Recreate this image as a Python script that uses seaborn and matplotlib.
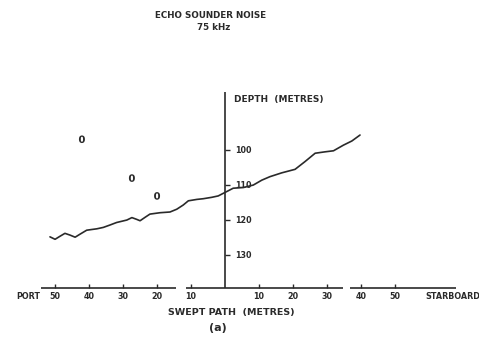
import matplotlib
matplotlib.use("Agg")
import matplotlib.pyplot as plt
import numpy as np
import pandas as pd
import seaborn as sns

# seabed profile across the swept path
path_m = [-51.5, -50.0, -48.5, -47.1, -45.6, -44.1, -42.6, -40.7, -37.7, -35.8,
          -33.8, -31.9, -28.9, -27.4, -26.0, -25.0, -23.5, -22.1, -19.1, -16.2,
          -14.2, -12.3, -10.8, -8.3, -6.4, -3.9, -2.0, 0.0, 2.4, 5.4,
          8.3, 10.8, 13.2, 16.7, 20.6, 23.5, 26.5, 29.4, 31.9, 34.8,
          37.3, 39.7]
depth_m = [124.8, 125.5, 124.6, 123.8, 124.3, 124.9, 124.0, 122.9, 122.5, 122.1,
           121.4, 120.7, 120.0, 119.3, 119.8, 120.2, 119.2, 118.3, 117.9, 117.7,
           116.9, 115.7, 114.5, 114.1, 113.9, 113.5, 113.1, 112.1, 110.9, 110.7,
           110.0, 108.6, 107.6, 106.5, 105.5, 103.3, 100.9, 100.5, 100.2, 98.6,
           97.4, 95.7]

# noise returns
noise_x = [-42.1, -27.4, -20.0]
noise_depth = [96.9, 108.0, 113.1]

port_ticks = [50, 40, 30, 20, 10]
stbd_ticks = [10, 20, 30, 40, 50]
depth_ticks = [100, 110, 120, 130]

ink = "#2a2a2a"
font = dict(family="DejaVu Sans", weight="bold", color=ink)

sns.set_style("white")
fig = plt.figure(figsize=(4.79, 3.46), dpi=100)
ax = fig.add_axes([0, 0, 1, 1])
ax.set_xlim(-66.2, 74.7)
ax.set_ylim(156.0, 57.1)
ax.axis("off")

profile = pd.DataFrame({"x": path_m, "depth": depth_m})
sns.lineplot(data=profile, x="x", y="depth", sort=False, color=ink, lw=1.2, ax=ax)
noise = pd.DataFrame({"x": noise_x, "depth": noise_depth})
sns.scatterplot(data=noise, x="x", y="depth", marker=r"$\mathbf{0}$", s=30,
                color=ink, edgecolor="none", ax=ax)

# axes drawn as on the original plotter output
base = 139.4
ax.vlines(0, 83.4, base, color=ink, lw=1.2)
for a, b in [(-54, -14.5), (-11.6, 34.8), (36.8, 68.0)]:
    ax.hlines(base, a, b, color=ink, lw=1.2)
for t in port_ticks:
    ax.vlines(-t, base - 1.2, base, color=ink, lw=1)
    ax.text(-t, base + 2.4, str(t), ha="center", va="center", fontsize=5.8, **font)
for t in stbd_ticks:
    ax.vlines(t, base - 1.2, base, color=ink, lw=1)
    ax.text(t, base + 2.4, str(t), ha="center", va="center", fontsize=5.8, **font)
for d in depth_ticks:
    ax.hlines(d, 0, 1.4, color=ink, lw=1)
    ax.text(3.0, d, str(d), ha="left", va="center", fontsize=5.8, **font)

ax.text(-58, base + 2.4, "PORT", ha="center", va="center", fontsize=5.8, **font)
ax.text(67, base + 2.4, "STARBOARD", ha="center", va="center", fontsize=5.8, **font)
ax.text(2.5, 85.4, "DEPTH  (METRES)", ha="left", va="center", fontsize=6.5, **font)
fig.text(0.483, 0.098, "SWEPT PATH  (METRES)", ha="center", va="center", fontsize=6.8, **font)
fig.text(0.44, 0.955, "ECHO SOUNDER NOISE", ha="center", va="center", fontsize=6.3, **font)
fig.text(0.445, 0.92, "75 kHz", ha="center", va="center", fontsize=6.3, **font)
fig.text(0.455, 0.052, "(a)", ha="center", va="center", fontsize=8, **font)

fig.savefig("out.png", dpi=100, facecolor="white")
